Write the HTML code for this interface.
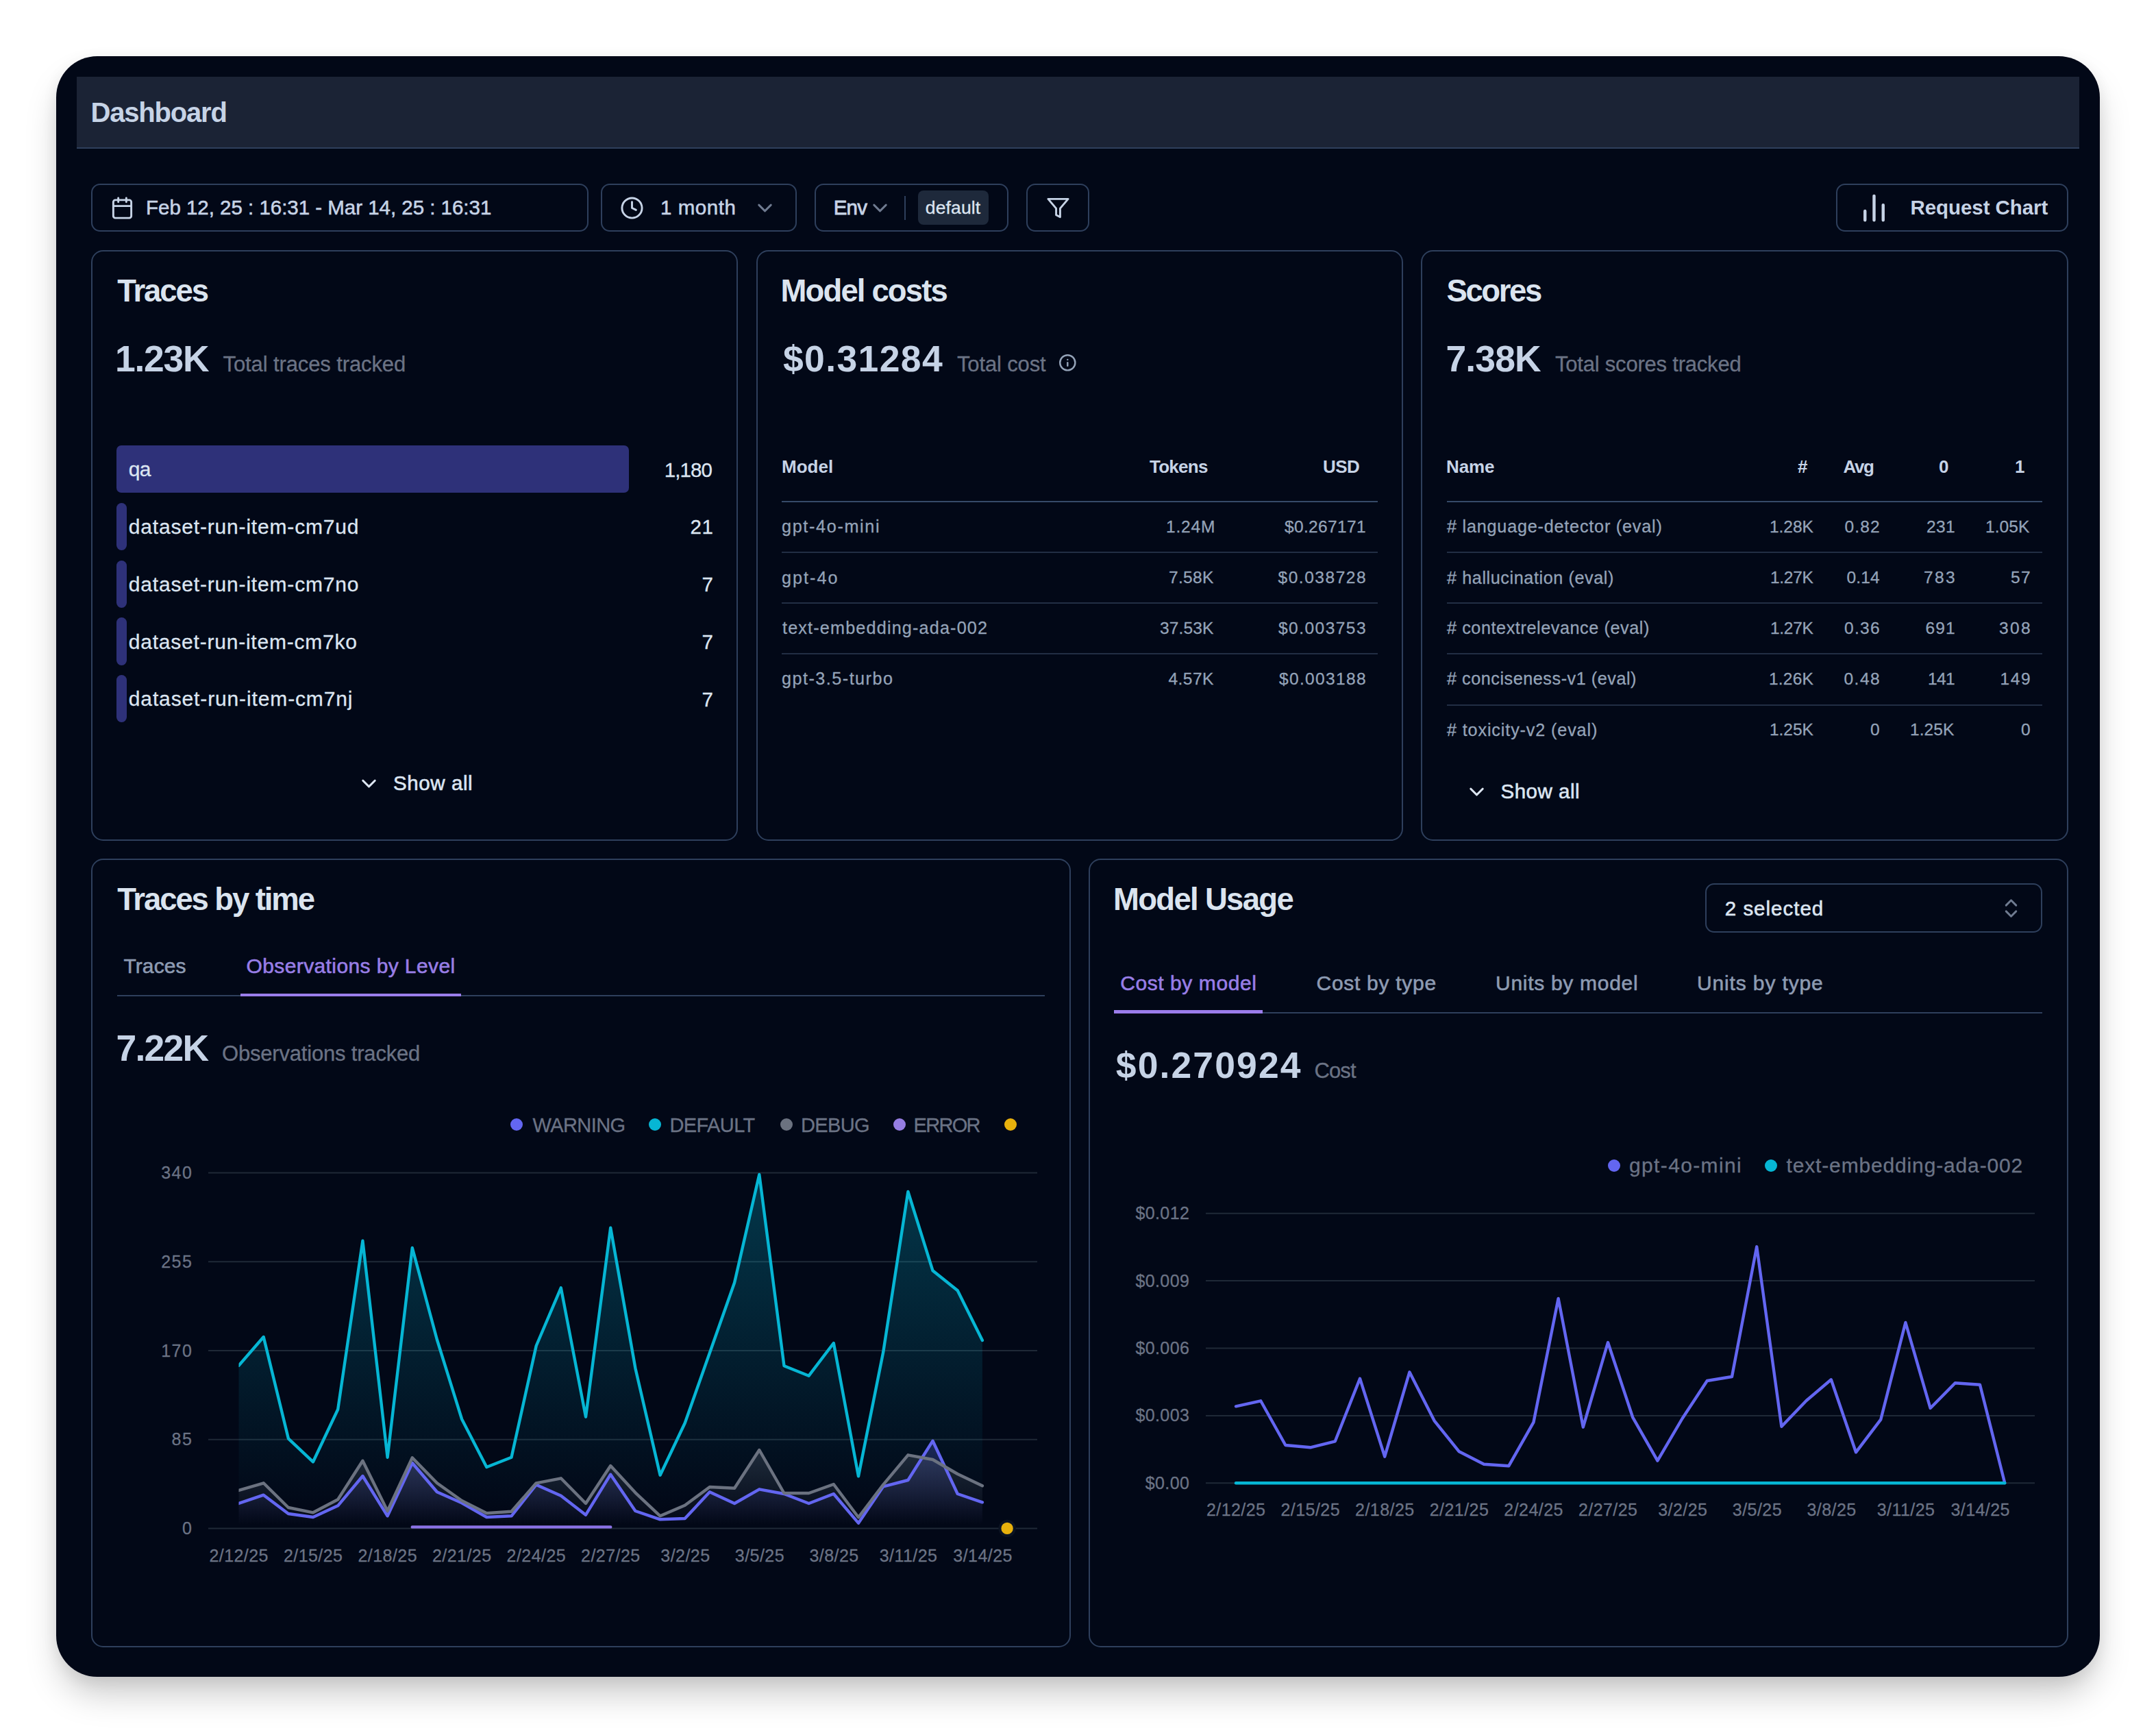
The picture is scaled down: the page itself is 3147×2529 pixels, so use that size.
<!DOCTYPE html>
<html lang="en">
<head>
<meta charset="utf-8">
<title>Dashboard</title>
<style>
html,body{margin:0;padding:0}
body{width:3147px;height:2529px;background:#fff;position:relative;overflow:hidden;font-family:"Liberation Sans", sans-serif;}
.frame{position:absolute;left:82px;top:82px;width:2983px;height:2365px;border-radius:60px;background:#020817;
box-shadow:0 30px 50px -6px rgba(0,0,0,.21),0 6px 22px rgba(0,0,0,.07);}
.hdr{position:absolute;left:112px;top:112px;width:2923px;height:103px;background:#1b2335;border-bottom:2px solid #2e3f5c;}
.bx{position:absolute;box-sizing:border-box;border:2px solid #2e3f5c;}
.t{position:absolute;white-space:nowrap;line-height:1;}
.ic,.chart{position:absolute;left:0;top:0;overflow:visible}
.bar{position:absolute;background:#2e3179;height:69.3px;left:170px}
.dot{position:absolute;width:18px;height:18px;border-radius:50%}
.ln{position:absolute;height:2px;background:#222e44}

</style>
</head>
<body>
<div class="frame"></div>
<div class="hdr"></div>
<div class="bx" style="left:133px;top:267.6px;width:726.3px;height:70.59999999999997px;border-radius:13px;"></div>
<div class="bx" style="left:876.8px;top:267.6px;width:286.0px;height:70.59999999999997px;border-radius:13px;"></div>
<div class="bx" style="left:1188.8px;top:267.6px;width:283.20000000000005px;height:70.59999999999997px;border-radius:13px;"></div>
<div class="bx" style="left:1498.2px;top:267.6px;width:91.59999999999991px;height:70.59999999999997px;border-radius:13px;"></div>
<div class="bx" style="left:2679.8px;top:267.6px;width:339.0999999999999px;height:70.59999999999997px;border-radius:13px;"></div>
<div style="position:absolute;left:1340px;top:278px;width:103px;height:49.5px;border-radius:8px;background:#1e293b"></div>
<div style="position:absolute;left:1320px;top:286px;width:2px;height:35px;background:#2e3f5c"></div>
<div class="bx" style="left:133px;top:364.8px;width:943.8px;height:862.3px;border-radius:17.5px;"></div>
<div class="bx" style="left:1103.9px;top:364.8px;width:944.4000000000001px;height:862.3px;border-radius:17.5px;"></div>
<div class="bx" style="left:2074.2px;top:364.8px;width:944.6000000000004px;height:862.3px;border-radius:17.5px;"></div>
<div class="bx" style="left:133px;top:1252.8px;width:1430px;height:1151.7px;border-radius:17.5px;"></div>
<div class="bx" style="left:1589px;top:1252.8px;width:1429.8000000000002px;height:1151.7px;border-radius:17.5px;"></div>
<div class="bx" style="left:2488.7px;top:1289px;width:492.7000000000003px;height:72px;border-radius:13px;"></div>
<div class="bar" style="top:650.0px;width:747.5px;border-radius:7px"></div>
<div class="bar" style="top:733.8px;width:15px;border-radius:7.5px"></div>
<div class="bar" style="top:817.6px;width:15px;border-radius:7.5px"></div>
<div class="bar" style="top:901.4px;width:15px;border-radius:7.5px"></div>
<div class="bar" style="top:985.2px;width:15px;border-radius:7.5px"></div>
<div class="ln" style="left:1141px;top:731px;width:870px;background:#364a69"></div>
<div class="ln" style="left:1141px;top:804.5px;width:870px"></div>
<div class="ln" style="left:1141px;top:879px;width:870px"></div>
<div class="ln" style="left:1141px;top:952.75px;width:870px"></div>
<div class="ln" style="left:2112px;top:731px;width:869px;background:#364a69"></div>
<div class="ln" style="left:2112px;top:804.5px;width:869px"></div>
<div class="ln" style="left:2112px;top:879px;width:869px"></div>
<div class="ln" style="left:2112px;top:952.75px;width:869px"></div>
<div class="ln" style="left:2112px;top:1027.75px;width:869px"></div>
<div class="ln" style="left:171px;top:1451.5px;width:1353.5px;background:#2e3f5c"></div>
<div style="position:absolute;left:351.25px;top:1449.6px;width:321.75px;height:4.4px;background:#9b7deb"></div>
<div class="ln" style="left:1626px;top:1476.5px;width:1355.25px;background:#2e3f5c"></div>
<div style="position:absolute;left:1626.25px;top:1474.3px;width:216.25px;height:4.4px;background:#9b7deb"></div>
<div class="dot" style="left:745.25px;top:1631.6px;background:#6366f1"></div>
<div class="dot" style="left:947.25px;top:1631.6px;background:#06b6d4"></div>
<div class="dot" style="left:1139px;top:1631.6px;background:#6b7280"></div>
<div class="dot" style="left:1304.1px;top:1631.6px;background:#957de2"></div>
<div class="dot" style="left:1466px;top:1631.6px;background:#e8b10c"></div>
<div class="dot" style="left:2347px;top:1692px;background:#6366f1"></div>
<div class="dot" style="left:2576px;top:1692px;background:#06b6d4"></div>
<svg class="chart" width="3147" height="2529" viewBox="0 0 3147 2529">
<defs>
<linearGradient id="gc" x1="0" y1="0" x2="0" y2="1"><stop offset="5%" stop-color="#06b6d4" stop-opacity="0.26"/><stop offset="95%" stop-color="#06b6d4" stop-opacity="0"/></linearGradient>
<linearGradient id="gg" x1="0" y1="0" x2="0" y2="1"><stop offset="5%" stop-color="#6b7280" stop-opacity="0.26"/><stop offset="95%" stop-color="#6b7280" stop-opacity="0"/></linearGradient>
<linearGradient id="gi" x1="0" y1="0" x2="0" y2="1"><stop offset="5%" stop-color="#6366f1" stop-opacity="0.26"/><stop offset="95%" stop-color="#6366f1" stop-opacity="0"/></linearGradient>
<clipPath id="cl"><rect x="348.5" y="1690" width="1200" height="560"/></clipPath>
</defs>
<line x1="304" x2="1514" y1="1711.5" y2="1711.5" stroke="#1f2937" stroke-width="2"/>
<line x1="304" x2="1514" y1="1841.2" y2="1841.2" stroke="#1f2937" stroke-width="2"/>
<line x1="304" x2="1514" y1="1971.0" y2="1971.0" stroke="#1f2937" stroke-width="2"/>
<line x1="304" x2="1514" y1="2100.8" y2="2100.8" stroke="#1f2937" stroke-width="2"/>
<line x1="304" x2="1514" y1="2230.5" y2="2230.5" stroke="#1f2937" stroke-width="2"/>
<line x1="1760" x2="2970" y1="2164.3" y2="2164.3" stroke="#1f2937" stroke-width="2"/>
<line x1="1760" x2="2970" y1="2065.9" y2="2065.9" stroke="#1f2937" stroke-width="2"/>
<line x1="1760" x2="2970" y1="1967.5" y2="1967.5" stroke="#1f2937" stroke-width="2"/>
<line x1="1760" x2="2970" y1="1869.1" y2="1869.1" stroke="#1f2937" stroke-width="2"/>
<line x1="1760" x2="2970" y1="1770.7" y2="1770.7" stroke="#1f2937" stroke-width="2"/>
<path d="M348.5,2194.0 L384.7,2181.7 L420.9,2209.0 L457.0,2214.0 L493.2,2197.3 L529.4,2154.0 L565.6,2212.3 L601.8,2135.0 L637.9,2177.3 L674.1,2193.3 L710.3,2214.0 L746.5,2212.3 L782.7,2166.7 L818.8,2182.7 L855.0,2210.7 L891.2,2151.7 L927.4,2205.0 L963.6,2217.3 L999.7,2216.0 L1035.9,2177.3 L1072.1,2194.0 L1108.3,2173.3 L1144.5,2180.0 L1180.6,2194.0 L1216.8,2180.0 L1253.0,2222.7 L1289.2,2169.3 L1325.4,2160.0 L1361.5,2102.7 L1397.7,2180.0 L1433.9,2192.3 L1433.9,2230.5 L348.5,2230.5 Z" fill="url(#gi)"/>
<path d="M348.5,1992.7 L384.7,1951.0 L420.9,2099.3 L457.0,2133.3 L493.2,2056.7 L529.4,1810.7 L565.6,2126.7 L601.8,1821.0 L637.9,1955.0 L674.1,2071.0 L710.3,2141.0 L746.5,2126.7 L782.7,1964.0 L818.8,1879.3 L855.0,2067.7 L891.2,1791.7 L927.4,1996.7 L963.6,2152.7 L999.7,2076.7 L1035.9,1974.3 L1072.1,1871.7 L1108.3,1714.0 L1144.5,1993.3 L1180.6,2007.7 L1216.8,1960.0 L1253.0,2154.3 L1289.2,1973.3 L1325.4,1739.0 L1361.5,1854.3 L1397.7,1883.3 L1433.9,1956.0 L1433.9,2230.5 L348.5,2230.5 Z" fill="url(#gc)"/>
<path d="M348.5,2175.0 L384.7,2164.3 L420.9,2200.0 L457.0,2207.3 L493.2,2188.3 L529.4,2131.7 L565.6,2205.0 L601.8,2127.3 L637.9,2164.3 L674.1,2190.0 L710.3,2208.3 L746.5,2205.7 L782.7,2164.3 L818.8,2157.3 L855.0,2194.0 L891.2,2139.0 L927.4,2178.3 L963.6,2212.3 L999.7,2196.7 L1035.9,2170.0 L1072.1,2171.7 L1108.3,2116.0 L1144.5,2179.0 L1180.6,2179.0 L1216.8,2166.0 L1253.0,2214.3 L1289.2,2166.7 L1325.4,2123.3 L1361.5,2130.0 L1397.7,2151.0 L1433.9,2168.3 L1433.9,2230.5 L348.5,2230.5 Z" fill="url(#gg)"/>
<polyline points="348.5,2194.0 384.7,2181.7 420.9,2209.0 457.0,2214.0 493.2,2197.3 529.4,2154.0 565.6,2212.3 601.8,2135.0 637.9,2177.3 674.1,2193.3 710.3,2214.0 746.5,2212.3 782.7,2166.7 818.8,2182.7 855.0,2210.7 891.2,2151.7 927.4,2205.0 963.6,2217.3 999.7,2216.0 1035.9,2177.3 1072.1,2194.0 1108.3,2173.3 1144.5,2180.0 1180.6,2194.0 1216.8,2180.0 1253.0,2222.7 1289.2,2169.3 1325.4,2160.0 1361.5,2102.7 1397.7,2180.0 1433.9,2192.3" stroke="#6366f1" fill="none" stroke-width="4.4" stroke-linejoin="round" stroke-linecap="round" clip-path="url(#cl)"/>
<polyline points="348.5,1992.7 384.7,1951.0 420.9,2099.3 457.0,2133.3 493.2,2056.7 529.4,1810.7 565.6,2126.7 601.8,1821.0 637.9,1955.0 674.1,2071.0 710.3,2141.0 746.5,2126.7 782.7,1964.0 818.8,1879.3 855.0,2067.7 891.2,1791.7 927.4,1996.7 963.6,2152.7 999.7,2076.7 1035.9,1974.3 1072.1,1871.7 1108.3,1714.0 1144.5,1993.3 1180.6,2007.7 1216.8,1960.0 1253.0,2154.3 1289.2,1973.3 1325.4,1739.0 1361.5,1854.3 1397.7,1883.3 1433.9,1956.0" stroke="#06b6d4" fill="none" stroke-width="4.4" stroke-linejoin="round" stroke-linecap="round" clip-path="url(#cl)"/>
<polyline points="348.5,2175.0 384.7,2164.3 420.9,2200.0 457.0,2207.3 493.2,2188.3 529.4,2131.7 565.6,2205.0 601.8,2127.3 637.9,2164.3 674.1,2190.0 710.3,2208.3 746.5,2205.7 782.7,2164.3 818.8,2157.3 855.0,2194.0 891.2,2139.0 927.4,2178.3 963.6,2212.3 999.7,2196.7 1035.9,2170.0 1072.1,2171.7 1108.3,2116.0 1144.5,2179.0 1180.6,2179.0 1216.8,2166.0 1253.0,2214.3 1289.2,2166.7 1325.4,2123.3 1361.5,2130.0 1397.7,2151.0 1433.9,2168.3" stroke="#6b7280" fill="none" stroke-width="4.4" stroke-linejoin="round" stroke-linecap="round" clip-path="url(#cl)"/>
<line x1="601.8" x2="891.2" y1="2228.4" y2="2228.4" stroke="#8b73e6" stroke-width="4.4" stroke-linecap="round"/>
<circle cx="1470.1" cy="2230.4" r="10.7" fill="#e8b10c" stroke="#0b1322" stroke-width="4"/>
<polyline points="1804.0,2052.3 1840.2,2044.3 1876.4,2109.0 1912.6,2112.3 1948.8,2103.3 1985.0,2011.7 2021.2,2125.7 2057.4,2002.3 2093.6,2073.3 2129.8,2118.3 2166.0,2136.7 2202.2,2139.3 2238.4,2075.7 2274.6,1895.0 2310.8,2082.7 2347.0,1959.0 2383.2,2068.3 2419.4,2131.7 2455.6,2070.0 2491.8,2015.0 2528.0,2009.0 2564.2,1819.3 2600.4,2081.7 2636.6,2044.0 2672.8,2013.3 2709.0,2119.3 2745.2,2071.7 2781.4,1930.0 2817.6,2055.0 2853.8,2018.3 2890.0,2020.7 2926.2,2164.0" stroke="#6366f1" fill="none" stroke-width="4.4" stroke-linejoin="round" stroke-linecap="round"/>
<line x1="1804" x2="2926.2" y1="2164.3" y2="2164.3" stroke="#06b6d4" stroke-width="4.4" stroke-linecap="round"/>
</svg>
<svg class="ic" style="left:161.4px;top:285.6px" width="35" height="35" viewBox="0 0 24 24" fill="none" stroke="#c6d3e6" stroke-width="2" stroke-linecap="round" stroke-linejoin="round" ><rect x="3" y="4" width="18" height="18" rx="2"/><path d="M16 2v4M8 2v4M3 10h18"/></svg>
<svg class="ic" style="left:905.25px;top:285.5px" width="35" height="35" viewBox="0 0 24 24" fill="none" stroke="#c6d3e6" stroke-width="2" stroke-linecap="round" stroke-linejoin="round" ><circle cx="12" cy="12" r="10"/><path d="M12 6v6l4 2"/></svg>
<svg class="ic" style="left:1099.0px;top:285.9px" width="35" height="35" viewBox="0 0 24 24" fill="none" stroke="#6f7b90" stroke-width="2" stroke-linecap="round" stroke-linejoin="round" ><path d="m6 9 6 6 6-6"/></svg>
<svg class="ic" style="left:1267.25px;top:285.9px" width="35" height="35" viewBox="0 0 24 24" fill="none" stroke="#6f7b90" stroke-width="2" stroke-linecap="round" stroke-linejoin="round" ><path d="m6 9 6 6 6-6"/></svg>
<svg class="ic" style="left:1526.5px;top:285.6px" width="35" height="35" viewBox="0 0 24 24" fill="none" stroke="#c6d3e6" stroke-width="2" stroke-linecap="round" stroke-linejoin="round" ><path d="M22 3H2l8 9.46V19l4 2v-8.54L22 3z"/></svg>
<svg class="ic" style="left:2709.0px;top:276.6px" width="53" height="53" viewBox="0 0 24 24" fill="none" stroke="#c6d3e6" stroke-width="2" stroke-linecap="round" stroke-linejoin="round" ><path d="M18 20V10M12 20V4M6 20v-6"/></svg>
<svg class="ic" style="left:1545.0px;top:515.6px" width="26.6" height="26.6" viewBox="0 0 24 24" fill="none" stroke="#94a3b8" stroke-width="2.2" stroke-linecap="round" stroke-linejoin="round" ><circle cx="12" cy="12" r="10"/><path d="M12 16v-4M12 8h.01"/></svg>
<svg class="ic" style="left:521.25px;top:1125.5px" width="35" height="35" viewBox="0 0 24 24" fill="none" stroke="#dce5f1" stroke-width="2" stroke-linecap="round" stroke-linejoin="round" ><path d="m6 9 6 6 6-6"/></svg>
<svg class="ic" style="left:2137.5px;top:1138.0px" width="35" height="35" viewBox="0 0 24 24" fill="none" stroke="#dce5f1" stroke-width="2" stroke-linecap="round" stroke-linejoin="round" ><path d="m6 9 6 6 6-6"/></svg>
<svg class="ic" style="left:2918.25px;top:1308.1px" width="35" height="35" viewBox="0 0 24 24" fill="none" stroke="#6f7b90" stroke-width="2" stroke-linecap="round" stroke-linejoin="round" ><path d="m7 15 5 5 5-5M7 9l5-5 5 5"/></svg>
<span class="t" style="left:132.5px;top:143.6px;font-size:40px;color:#c6d3e6;letter-spacing:-1.19px;font-weight:700">Dashboard</span>
<span class="t" style="left:213.0px;top:288.0px;font-size:29.5px;color:#c6d3e6;letter-spacing:-0.02px;-webkit-text-stroke:0.55px #c6d3e6">Feb 12, 25 : 16:31 - Mar 14, 25 : 16:31</span>
<span class="t" style="left:964.0px;top:288.0px;font-size:29.5px;color:#c6d3e6;letter-spacing:0.55px;-webkit-text-stroke:0.55px #c6d3e6">1 month</span>
<span class="t" style="left:1216.8px;top:287.5px;font-size:29.5px;color:#c6d3e6;letter-spacing:-0.85px;-webkit-text-stroke:0.8px #c6d3e6">Env</span>
<span class="t" style="left:1350.8px;top:290.1px;font-size:26.5px;color:#dce5f1;letter-spacing:0.13px;-webkit-text-stroke:0.3px #dce5f1">default</span>
<span class="t" style="left:2788.5px;top:287.5px;font-size:29.5px;color:#c6d3e6;letter-spacing:-0.07px;font-weight:700">Request Chart</span>
<span class="t" style="left:171.2px;top:402.0px;font-size:45.5px;color:#dbe4ef;letter-spacing:-2.08px;font-weight:700">Traces</span>
<span class="t" style="left:1139.5px;top:402.0px;font-size:45.5px;color:#dbe4ef;letter-spacing:-1.86px;font-weight:700">Model costs</span>
<span class="t" style="left:2111.5px;top:402.0px;font-size:45.5px;color:#dbe4ef;letter-spacing:-2.39px;font-weight:700">Scores</span>
<span class="t" style="left:171.2px;top:1290.2px;font-size:45.5px;color:#dbe4ef;letter-spacing:-2.10px;font-weight:700">Traces by time</span>
<span class="t" style="left:1625.0px;top:1290.2px;font-size:45.5px;color:#dbe4ef;letter-spacing:-1.69px;font-weight:700">Model Usage</span>
<span class="t" style="left:168.0px;top:496.5px;font-size:53.5px;color:#c6d3e6;letter-spacing:-1.28px;font-weight:700">1.23K</span>
<span class="t" style="left:1143.0px;top:496.5px;font-size:53.5px;color:#c6d3e6;letter-spacing:1.37px;font-weight:700">$0.31284</span>
<span class="t" style="left:2110.5px;top:496.5px;font-size:53.5px;color:#c6d3e6;letter-spacing:-0.91px;font-weight:700">7.38K</span>
<span class="t" style="left:169.5px;top:1502.7px;font-size:53.5px;color:#c6d3e6;letter-spacing:-1.78px;font-weight:700">7.22K</span>
<span class="t" style="left:1628.8px;top:1527.7px;font-size:53.5px;color:#c6d3e6;letter-spacing:2.11px;font-weight:700">$0.270924</span>
<span class="t" style="left:325.5px;top:515.5px;font-size:31px;color:#6b7385;letter-spacing:-0.11px;-webkit-text-stroke:0.3px #6b7385">Total traces tracked</span>
<span class="t" style="left:1397.0px;top:515.8px;font-size:31px;color:#6b7385;letter-spacing:-0.15px;-webkit-text-stroke:0.3px #6b7385">Total cost</span>
<span class="t" style="left:2270.0px;top:515.5px;font-size:31px;color:#6b7385;letter-spacing:-0.21px;-webkit-text-stroke:0.3px #6b7385">Total scores tracked</span>
<span class="t" style="left:324.0px;top:1521.8px;font-size:31px;color:#6b7385;letter-spacing:-0.19px;-webkit-text-stroke:0.3px #6b7385">Observations tracked</span>
<span class="t" style="left:1918.5px;top:1546.8px;font-size:31px;color:#6b7385;letter-spacing:-0.88px;-webkit-text-stroke:0.3px #6b7385">Cost</span>
<span class="t" style="left:187.8px;top:670.1px;font-size:30px;color:#dce5f1;letter-spacing:-0.69px;-webkit-text-stroke:0.3px #dce5f1">qa</span>
<span class="t" style="left:969.8px;top:670.5px;font-size:29.5px;color:#dce5f1;letter-spacing:-0.93px;-webkit-text-stroke:0.3px #dce5f1">1,180</span>
<span class="t" style="left:187.8px;top:753.9px;font-size:30px;color:#dce5f1;letter-spacing:0.82px;-webkit-text-stroke:0.3px #dce5f1">dataset-run-item-cm7ud</span>
<span class="t" style="left:1007.5px;top:754.3px;font-size:29.5px;color:#dce5f1;letter-spacing:0.59px;-webkit-text-stroke:0.3px #dce5f1">21</span>
<span class="t" style="left:187.8px;top:837.7px;font-size:30px;color:#dce5f1;letter-spacing:0.82px;-webkit-text-stroke:0.3px #dce5f1">dataset-run-item-cm7no</span>
<span class="t" style="left:1024.5px;top:838.1px;font-size:29.5px;color:#dce5f1;letter-spacing:0.59px;-webkit-text-stroke:0.3px #dce5f1">7</span>
<span class="t" style="left:187.8px;top:921.5px;font-size:30px;color:#dce5f1;letter-spacing:0.78px;-webkit-text-stroke:0.3px #dce5f1">dataset-run-item-cm7ko</span>
<span class="t" style="left:1024.5px;top:921.9px;font-size:29.5px;color:#dce5f1;letter-spacing:0.59px;-webkit-text-stroke:0.3px #dce5f1">7</span>
<span class="t" style="left:187.8px;top:1005.3px;font-size:30px;color:#dce5f1;letter-spacing:0.87px;-webkit-text-stroke:0.3px #dce5f1">dataset-run-item-cm7nj</span>
<span class="t" style="left:1024.5px;top:1005.7px;font-size:29.5px;color:#dce5f1;letter-spacing:0.59px;-webkit-text-stroke:0.3px #dce5f1">7</span>
<span class="t" style="left:574.0px;top:1127.5px;font-size:29.5px;color:#dce5f1;letter-spacing:0.58px;-webkit-text-stroke:0.6px #dce5f1">Show all</span>
<span class="t" style="left:2190.5px;top:1140.0px;font-size:29.5px;color:#dce5f1;letter-spacing:0.51px;-webkit-text-stroke:0.6px #dce5f1">Show all</span>
<span class="t" style="left:1141.0px;top:668.0px;font-size:26px;color:#c6d3e6;letter-spacing:0.03px;font-weight:700">Model</span>
<span class="t" style="left:1678.0px;top:668.0px;font-size:26px;color:#c6d3e6;letter-spacing:-0.73px;font-weight:700">Tokens</span>
<span class="t" style="left:1931.0px;top:668.0px;font-size:26px;color:#c6d3e6;letter-spacing:-0.56px;font-weight:700">USD</span>
<span class="t" style="left:2111.0px;top:668.0px;font-size:26px;color:#c6d3e6;letter-spacing:-0.12px;font-weight:700">Name</span>
<span class="t" style="left:2624.0px;top:668.0px;font-size:26px;color:#c6d3e6;letter-spacing:0.00px;font-weight:700">#</span>
<span class="t" style="left:2690.5px;top:668.0px;font-size:26px;color:#c6d3e6;letter-spacing:-1.39px;font-weight:700">Avg</span>
<span class="t" style="left:2830.0px;top:668.0px;font-size:26px;color:#c6d3e6;letter-spacing:0.00px;font-weight:700">0</span>
<span class="t" style="left:2941.0px;top:668.0px;font-size:26px;color:#c6d3e6;letter-spacing:0.00px;font-weight:700">1</span>
<span class="t" style="left:1141.0px;top:756.2px;font-size:25.2px;color:#94a3b8;letter-spacing:1.66px;-webkit-text-stroke:0.3px #94a3b8">gpt-4o-mini</span>
<span class="t" style="left:1702.0px;top:756.8px;font-size:24.5px;color:#94a3b8;letter-spacing:0.83px;-webkit-text-stroke:0.3px #94a3b8">1.24M</span>
<span class="t" style="left:1875.0px;top:756.8px;font-size:24.5px;color:#94a3b8;letter-spacing:0.35px;-webkit-text-stroke:0.3px #94a3b8">$0.267171</span>
<span class="t" style="left:1141.0px;top:830.7px;font-size:25.2px;color:#94a3b8;letter-spacing:2.02px;-webkit-text-stroke:0.3px #94a3b8">gpt-4o</span>
<span class="t" style="left:1706.0px;top:831.3px;font-size:24.5px;color:#94a3b8;letter-spacing:0.33px;-webkit-text-stroke:0.3px #94a3b8">7.58K</span>
<span class="t" style="left:1865.5px;top:831.3px;font-size:24.5px;color:#94a3b8;letter-spacing:1.54px;-webkit-text-stroke:0.3px #94a3b8">$0.038728</span>
<span class="t" style="left:1142.0px;top:904.2px;font-size:25.2px;color:#94a3b8;letter-spacing:1.17px;-webkit-text-stroke:0.3px #94a3b8">text-embedding-ada-002</span>
<span class="t" style="left:1693.0px;top:904.8px;font-size:24.5px;color:#94a3b8;letter-spacing:0.14px;-webkit-text-stroke:0.3px #94a3b8">37.53K</span>
<span class="t" style="left:1866.0px;top:904.8px;font-size:24.5px;color:#94a3b8;letter-spacing:1.47px;-webkit-text-stroke:0.3px #94a3b8">$0.003753</span>
<span class="t" style="left:1141.0px;top:978.2px;font-size:25.2px;color:#94a3b8;letter-spacing:1.48px;-webkit-text-stroke:0.3px #94a3b8">gpt-3.5-turbo</span>
<span class="t" style="left:1705.5px;top:978.8px;font-size:24.5px;color:#94a3b8;letter-spacing:0.45px;-webkit-text-stroke:0.3px #94a3b8">4.57K</span>
<span class="t" style="left:1867.0px;top:978.8px;font-size:24.5px;color:#94a3b8;letter-spacing:1.35px;-webkit-text-stroke:0.3px #94a3b8">$0.003188</span>
<span class="t" style="left:2112.0px;top:756.2px;font-size:25.2px;color:#94a3b8;letter-spacing:0.79px;-webkit-text-stroke:0.3px #94a3b8"># language-detector (eval)</span>
<span class="t" style="left:2583.0px;top:756.8px;font-size:24.5px;color:#94a3b8;letter-spacing:-0.05px;-webkit-text-stroke:0.3px #94a3b8">1.28K</span>
<span class="t" style="left:2692.5px;top:756.8px;font-size:24.5px;color:#94a3b8;letter-spacing:1.15px;-webkit-text-stroke:0.3px #94a3b8">0.82</span>
<span class="t" style="left:2812.0px;top:756.8px;font-size:24.5px;color:#94a3b8;letter-spacing:0.37px;-webkit-text-stroke:0.3px #94a3b8">231</span>
<span class="t" style="left:2898.0px;top:756.8px;font-size:24.5px;color:#94a3b8;letter-spacing:0.08px;-webkit-text-stroke:0.3px #94a3b8">1.05K</span>
<span class="t" style="left:2112.0px;top:830.7px;font-size:25.2px;color:#94a3b8;letter-spacing:0.59px;-webkit-text-stroke:0.3px #94a3b8"># hallucination (eval)</span>
<span class="t" style="left:2584.0px;top:831.3px;font-size:24.5px;color:#94a3b8;letter-spacing:-0.30px;-webkit-text-stroke:0.3px #94a3b8">1.27K</span>
<span class="t" style="left:2695.5px;top:831.3px;font-size:24.5px;color:#94a3b8;letter-spacing:0.15px;-webkit-text-stroke:0.3px #94a3b8">0.14</span>
<span class="t" style="left:2808.0px;top:831.3px;font-size:24.5px;color:#94a3b8;letter-spacing:2.37px;-webkit-text-stroke:0.3px #94a3b8">783</span>
<span class="t" style="left:2935.0px;top:831.3px;font-size:24.5px;color:#94a3b8;letter-spacing:1.36px;-webkit-text-stroke:0.3px #94a3b8">57</span>
<span class="t" style="left:2112.0px;top:904.2px;font-size:25.2px;color:#94a3b8;letter-spacing:0.58px;-webkit-text-stroke:0.3px #94a3b8"># contextrelevance (eval)</span>
<span class="t" style="left:2584.0px;top:904.8px;font-size:24.5px;color:#94a3b8;letter-spacing:-0.30px;-webkit-text-stroke:0.3px #94a3b8">1.27K</span>
<span class="t" style="left:2692.0px;top:904.8px;font-size:24.5px;color:#94a3b8;letter-spacing:1.31px;-webkit-text-stroke:0.3px #94a3b8">0.36</span>
<span class="t" style="left:2810.5px;top:904.8px;font-size:24.5px;color:#94a3b8;letter-spacing:1.12px;-webkit-text-stroke:0.3px #94a3b8">691</span>
<span class="t" style="left:2918.0px;top:904.8px;font-size:24.5px;color:#94a3b8;letter-spacing:2.37px;-webkit-text-stroke:0.3px #94a3b8">308</span>
<span class="t" style="left:2112.0px;top:978.2px;font-size:25.2px;color:#94a3b8;letter-spacing:0.54px;-webkit-text-stroke:0.3px #94a3b8"># conciseness-v1 (eval)</span>
<span class="t" style="left:2582.0px;top:978.8px;font-size:24.5px;color:#94a3b8;letter-spacing:0.20px;-webkit-text-stroke:0.3px #94a3b8">1.26K</span>
<span class="t" style="left:2691.5px;top:978.8px;font-size:24.5px;color:#94a3b8;letter-spacing:1.48px;-webkit-text-stroke:0.3px #94a3b8">0.48</span>
<span class="t" style="left:2814.0px;top:978.8px;font-size:24.5px;color:#94a3b8;letter-spacing:-0.63px;-webkit-text-stroke:0.3px #94a3b8">141</span>
<span class="t" style="left:2919.5px;top:978.8px;font-size:24.5px;color:#94a3b8;letter-spacing:1.62px;-webkit-text-stroke:0.3px #94a3b8">149</span>
<span class="t" style="left:2112.0px;top:1052.7px;font-size:25.2px;color:#94a3b8;letter-spacing:0.86px;-webkit-text-stroke:0.3px #94a3b8"># toxicity-v2 (eval)</span>
<span class="t" style="left:2583.0px;top:1053.3px;font-size:24.5px;color:#94a3b8;letter-spacing:-0.05px;-webkit-text-stroke:0.3px #94a3b8">1.25K</span>
<span class="t" style="left:2730.0px;top:1053.3px;font-size:24.5px;color:#94a3b8;letter-spacing:0.00px;-webkit-text-stroke:0.3px #94a3b8">0</span>
<span class="t" style="left:2788.0px;top:1053.3px;font-size:24.5px;color:#94a3b8;letter-spacing:0.08px;-webkit-text-stroke:0.3px #94a3b8">1.25K</span>
<span class="t" style="left:2950.0px;top:1053.3px;font-size:24.5px;color:#94a3b8;letter-spacing:0.00px;-webkit-text-stroke:0.3px #94a3b8">0</span>
<span class="t" style="left:180.5px;top:1395.4px;font-size:30px;color:#8d9bb2;letter-spacing:0.08px;-webkit-text-stroke:0.6px #8d9bb2">Traces</span>
<span class="t" style="left:359.5px;top:1395.4px;font-size:30px;color:#987ee6;letter-spacing:0.39px;-webkit-text-stroke:0.6px #987ee6">Observations by Level</span>
<span class="t" style="left:1635.2px;top:1420.4px;font-size:30px;color:#987ee6;letter-spacing:0.58px;-webkit-text-stroke:0.6px #987ee6">Cost by model</span>
<span class="t" style="left:1921.5px;top:1420.4px;font-size:30px;color:#8d9bb2;letter-spacing:0.72px;-webkit-text-stroke:0.6px #8d9bb2">Cost by type</span>
<span class="t" style="left:2183.0px;top:1420.4px;font-size:30px;color:#8d9bb2;letter-spacing:0.71px;-webkit-text-stroke:0.6px #8d9bb2">Units by model</span>
<span class="t" style="left:2477.0px;top:1420.4px;font-size:30px;color:#8d9bb2;letter-spacing:0.86px;-webkit-text-stroke:0.6px #8d9bb2">Units by type</span>
<span class="t" style="left:777.5px;top:1627.5px;font-size:29px;color:#6b7385;letter-spacing:-0.59px;-webkit-text-stroke:0.3px #6b7385">WARNING</span>
<span class="t" style="left:977.5px;top:1627.5px;font-size:29px;color:#6b7385;letter-spacing:-0.61px;-webkit-text-stroke:0.3px #6b7385">DEFAULT</span>
<span class="t" style="left:1169.0px;top:1627.5px;font-size:29px;color:#6b7385;letter-spacing:-0.65px;-webkit-text-stroke:0.3px #6b7385">DEBUG</span>
<span class="t" style="left:1333.5px;top:1627.5px;font-size:29px;color:#6b7385;letter-spacing:-1.70px;-webkit-text-stroke:0.3px #6b7385">ERROR</span>
<span class="t" style="left:2378.0px;top:1686.1px;font-size:30px;color:#6b7385;letter-spacing:1.36px;-webkit-text-stroke:0.3px #6b7385">gpt-4o-mini</span>
<span class="t" style="left:2607.5px;top:1686.1px;font-size:30px;color:#6b7385;letter-spacing:0.85px;-webkit-text-stroke:0.3px #6b7385">text-embedding-ada-002</span>
<span class="t" style="left:2517.8px;top:1310.5px;font-size:29.5px;color:#dce5f1;letter-spacing:0.99px;-webkit-text-stroke:0.6px #dce5f1">2 selected</span>
<span class="t" style="left:235.2px;top:1699.0px;font-size:25px;color:#6b7385;letter-spacing:1.50px;-webkit-text-stroke:0.3px #6b7385">340</span>
<span class="t" style="left:235.2px;top:1828.8px;font-size:25px;color:#6b7385;letter-spacing:1.50px;-webkit-text-stroke:0.3px #6b7385">255</span>
<span class="t" style="left:235.2px;top:1958.5px;font-size:25px;color:#6b7385;letter-spacing:1.50px;-webkit-text-stroke:0.3px #6b7385">170</span>
<span class="t" style="left:250.6px;top:2088.3px;font-size:25px;color:#6b7385;letter-spacing:1.50px;-webkit-text-stroke:0.3px #6b7385">85</span>
<span class="t" style="left:266.0px;top:2218.0px;font-size:25px;color:#6b7385;letter-spacing:1.50px;-webkit-text-stroke:0.3px #6b7385">0</span>
<span class="t" style="left:305.4px;top:2257.6px;font-size:25px;color:#6b7385;letter-spacing:0.45px;-webkit-text-stroke:0.3px #6b7385">2/12/25</span>
<span class="t" style="left:413.9px;top:2257.6px;font-size:25px;color:#6b7385;letter-spacing:0.45px;-webkit-text-stroke:0.3px #6b7385">2/15/25</span>
<span class="t" style="left:522.5px;top:2257.6px;font-size:25px;color:#6b7385;letter-spacing:0.45px;-webkit-text-stroke:0.3px #6b7385">2/18/25</span>
<span class="t" style="left:631.0px;top:2257.6px;font-size:25px;color:#6b7385;letter-spacing:0.45px;-webkit-text-stroke:0.3px #6b7385">2/21/25</span>
<span class="t" style="left:739.6px;top:2257.6px;font-size:25px;color:#6b7385;letter-spacing:0.45px;-webkit-text-stroke:0.3px #6b7385">2/24/25</span>
<span class="t" style="left:848.1px;top:2257.6px;font-size:25px;color:#6b7385;letter-spacing:0.45px;-webkit-text-stroke:0.3px #6b7385">2/27/25</span>
<span class="t" style="left:964.3px;top:2257.6px;font-size:25px;color:#6b7385;letter-spacing:0.45px;-webkit-text-stroke:0.3px #6b7385">3/2/25</span>
<span class="t" style="left:1072.8px;top:2257.6px;font-size:25px;color:#6b7385;letter-spacing:0.45px;-webkit-text-stroke:0.3px #6b7385">3/5/25</span>
<span class="t" style="left:1181.4px;top:2257.6px;font-size:25px;color:#6b7385;letter-spacing:0.45px;-webkit-text-stroke:0.3px #6b7385">3/8/25</span>
<span class="t" style="left:1283.7px;top:2257.6px;font-size:25px;color:#6b7385;letter-spacing:0.45px;-webkit-text-stroke:0.3px #6b7385">3/11/25</span>
<span class="t" style="left:1391.3px;top:2257.6px;font-size:25px;color:#6b7385;letter-spacing:0.45px;-webkit-text-stroke:0.3px #6b7385">3/14/25</span>
<span class="t" style="left:1671.7px;top:2151.8px;font-size:25px;color:#6b7385;letter-spacing:0.40px;-webkit-text-stroke:0.3px #6b7385">$0.00</span>
<span class="t" style="left:1657.4px;top:2053.4px;font-size:25px;color:#6b7385;letter-spacing:0.40px;-webkit-text-stroke:0.3px #6b7385">$0.003</span>
<span class="t" style="left:1657.4px;top:1955.0px;font-size:25px;color:#6b7385;letter-spacing:0.40px;-webkit-text-stroke:0.3px #6b7385">$0.006</span>
<span class="t" style="left:1657.4px;top:1856.6px;font-size:25px;color:#6b7385;letter-spacing:0.40px;-webkit-text-stroke:0.3px #6b7385">$0.009</span>
<span class="t" style="left:1657.4px;top:1758.2px;font-size:25px;color:#6b7385;letter-spacing:0.40px;-webkit-text-stroke:0.3px #6b7385">$0.012</span>
<span class="t" style="left:1760.9px;top:2190.8px;font-size:25px;color:#6b7385;letter-spacing:0.45px;-webkit-text-stroke:0.3px #6b7385">2/12/25</span>
<span class="t" style="left:1869.5px;top:2190.8px;font-size:25px;color:#6b7385;letter-spacing:0.45px;-webkit-text-stroke:0.3px #6b7385">2/15/25</span>
<span class="t" style="left:1978.1px;top:2190.8px;font-size:25px;color:#6b7385;letter-spacing:0.45px;-webkit-text-stroke:0.3px #6b7385">2/18/25</span>
<span class="t" style="left:2086.7px;top:2190.8px;font-size:25px;color:#6b7385;letter-spacing:0.45px;-webkit-text-stroke:0.3px #6b7385">2/21/25</span>
<span class="t" style="left:2195.3px;top:2190.8px;font-size:25px;color:#6b7385;letter-spacing:0.45px;-webkit-text-stroke:0.3px #6b7385">2/24/25</span>
<span class="t" style="left:2303.9px;top:2190.8px;font-size:25px;color:#6b7385;letter-spacing:0.45px;-webkit-text-stroke:0.3px #6b7385">2/27/25</span>
<span class="t" style="left:2420.2px;top:2190.8px;font-size:25px;color:#6b7385;letter-spacing:0.45px;-webkit-text-stroke:0.3px #6b7385">3/2/25</span>
<span class="t" style="left:2528.8px;top:2190.8px;font-size:25px;color:#6b7385;letter-spacing:0.45px;-webkit-text-stroke:0.3px #6b7385">3/5/25</span>
<span class="t" style="left:2637.4px;top:2190.8px;font-size:25px;color:#6b7385;letter-spacing:0.45px;-webkit-text-stroke:0.3px #6b7385">3/8/25</span>
<span class="t" style="left:2739.7px;top:2190.8px;font-size:25px;color:#6b7385;letter-spacing:0.45px;-webkit-text-stroke:0.3px #6b7385">3/11/25</span>
<span class="t" style="left:2847.4px;top:2190.8px;font-size:25px;color:#6b7385;letter-spacing:0.45px;-webkit-text-stroke:0.3px #6b7385">3/14/25</span>
</body>
</html>
